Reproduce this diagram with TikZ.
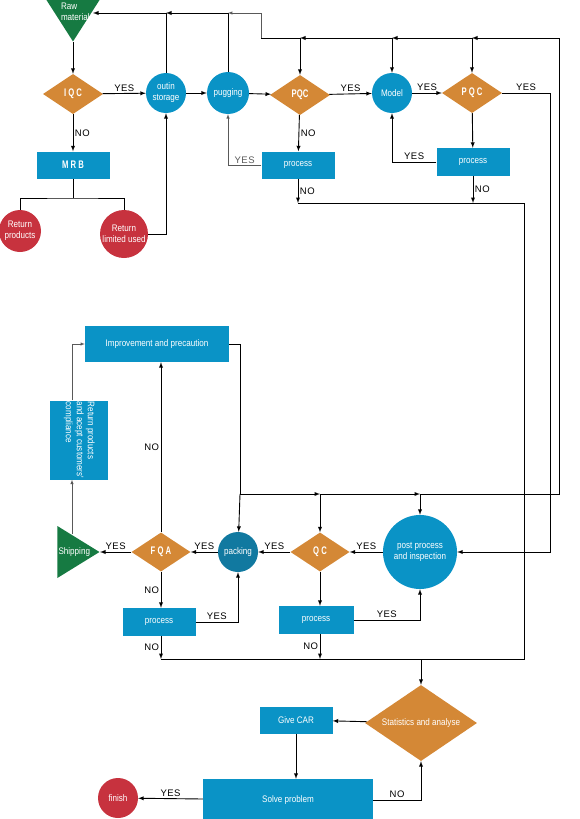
\documentclass[tikz,border=0pt]{standalone}
\usepackage{fontspec}
\setmainfont{Liberation Sans}
\newfontfamily\tagfont[LetterSpace=5]{Liberation Sans}
\newfontfamily\narrowfont[FakeStretch=0.85]{Liberation Sans}
\newfontfamily\checkfont[FakeStretch=0.7]{Liberation Sans}
\usepackage{graphicx}
\usepackage{tikz}
\usetikzlibrary{shapes, shapes.geometric, arrows, calc}

\definecolor{stepblue}{RGB}{10,147,198}
\definecolor{packblue}{RGB}{17,121,160}
\definecolor{checkorange}{RGB}{212,136,54}
\definecolor{flagreen}{RGB}{22,122,66}
\definecolor{backred}{RGB}{199,50,62}

\tikzstyle{station} = [rectangle, fill=stepblue, text=white, align=center,
    minimum width=73pt, minimum height=27pt, inner sep=1pt, font=\narrowfont\fontsize{9.5}{11}\selectfont]
\tikzstyle{bubble} = [circle, fill=stepblue, text=white, align=center,
    minimum size=40pt, inner sep=0pt, font=\narrowfont\fontsize{9.5}{11}\selectfont]
\tikzstyle{check} = [diamond, aspect=1.5, fill=checkorange, text=white,
    minimum width=60pt, minimum height=40pt, inner sep=0pt, font=\checkfont\bfseries\fontsize{11}{12}\selectfont]
\tikzstyle{flag} = [isosceles triangle, isosceles triangle stretches, fill=flagreen,
    text=white, inner sep=0pt, align=left, font=\narrowfont\fontsize{9.5}{11}\selectfont]
\tikzstyle{line} = [draw, -latex, line width=0.9pt]
\tikzstyle{thinline} = [draw, -latex, line width=0.5pt, black!65]
\tikzstyle{tag} = [font=\tagfont\fontsize{9.5}{10}\selectfont, inner sep=1.5pt]

\begin{document}
\begin{tikzpicture}[x=1pt, y=-1pt,
    redbubble/.style={bubble, fill=backred},
    yestag/.style={tag, above},
    notag/.style={tag, right}
    ]
    \useasboundingbox (0,0) rectangle (580,819);

    % incoming material
    \node[flag, shape border rotate=270, minimum width=64pt, minimum height=50pt, anchor=apex] (raw) at (73,42)
        {\makebox[0pt][l]{\hspace*{-12pt}\raisebox{-0.5pt}[0pt][0pt]{\begin{tabular}[t]{@{}l@{}}Raw\\material\end{tabular}}}};
    \node[check] (iqc) at (73,94) {I Q C};
    \node[station, font=\checkfont\bfseries\fontsize{11}{12}\selectfont] (mrb) at (73,165) {M R B};
    \node[redbubble, minimum size=42pt] (retp) at (20,231) {Return\\products};
    \node[redbubble, minimum size=48pt] (retl) at (124,234) {Return\\limited used};
    \node[bubble] (outin) at (166,93) {outin\\storage};
    \node[bubble, minimum size=42pt] (pug) at (228,93) {pugging};
    \node[check] (pqca) at (300,95) {PQC};
    \node[station] (proca) at (298,165) {process};
    \node[bubble] (model) at (392,93) {Model};
    \node[check] (pqcb) at (472,93) {P Q C};
    \node[station, minimum height=28pt] (procb) at (473,162) {process};

    % packing line
    \node[station, minimum width=144pt, minimum height=36pt] (impr) at (157,344) {Improvement and precaution};
    \node[station, minimum width=58pt, minimum height=79pt] (retc) at (79,440)
        {\rotatebox{-90}{\begin{tabular}{@{}l@{}}Return products\\and acept customers'\\compliance\end{tabular}}};
    \node[flag, shape border rotate=0, minimum width=52pt, minimum height=41pt, anchor=apex] (ship) at (100,552) {Shipping};
    \node[check, minimum width=59pt, minimum height=39pt] (fqa) at (161,552) {F Q A};
    \node[bubble, fill=packblue] (pack) at (238,552) {packing};
    \node[check, minimum width=59pt, minimum height=39pt] (qc) at (320,552) {Q C};
    \node[bubble, minimum size=74pt] (post) at (420,552) {post process\\and inspection};
    \node[station, minimum width=75pt, minimum height=28pt] (procc) at (316,620) {process};
    \node[station, minimum height=28pt] (procd) at (159,622) {process};

    % closing
    \node[check, aspect=2.5, minimum width=112pt, minimum height=76pt, font=\narrowfont\fontsize{9.5}{11}\selectfont] (stat) at (421,723) {Statistics and analyse};
    \node[station] (car) at (296,720) {Give CAR};
    \node[station, minimum width=170pt, minimum height=42pt] (solve) at (288,800) {Solve problem};
    \node[redbubble] (fin) at (118,798) {finish};

    % bends of the long lines
    \coordinate (rawin) at (93,13);
    \coordinate (split) at (73,198);
    \coordinate (topa) at (166,13);
    \coordinate (topb) at (228,13);
    \coordinate (topc) at (261,13);
    \coordinate (ji) at (261,38);
    \coordinate (jh) at (300,38);
    \coordinate (jg) at (392,38);
    \coordinate (jf) at (472,38);
    \coordinate (je) at (559,38);
    \coordinate (jd) at (559,494);
    \coordinate (jc) at (420,494);
    \coordinate (jb) at (320,494);
    \coordinate (ja) at (240,494);
    \coordinate (na) at (298,203);
    \coordinate (nb) at (473,203);
    \coordinate (nc) at (524,203);
    \coordinate (nd) at (161,659);
    \coordinate (ne) at (320,659);
    \coordinate (nf) at (421,659);
    \coordinate (ra) at (550,93);
    \coordinate (sa) at (72,534);

    \draw[line] (raw.apex) -- (iqc);
    \path[line] (iqc) edge node[yestag] {YES} (outin);
    \path[line] (iqc) edge node[notag] {NO} (mrb);
    \draw[line width=0.9pt] (mrb) -- (split);
    \draw[line width=0.9pt] (retp) |- (split) -| (retl);
    \draw[line] (retl) -| (outin);
    \path[line] (outin) edge (pug);
    \path[line] (pug) edge (pqca);
    \draw[line] (outin) |- (rawin);
    \draw[line] (pug) |- (topa);
    \draw[thinline] (ji) -- (topc) -- (topb);

    \path[line] (pqca) edge node[yestag] {YES} (model);
    \path[line] (model) edge node[yestag] {YES} (pqcb);
    \path[line] (pqca) edge node[notag] {NO} (proca);
    \path[line] (pqcb) edge (procb);
    \draw[thinline] (proca) -| node[yestag, pos=0.25] {YES} (pug);
    \draw[line] (procb) -| node[yestag, pos=0.25] {YES} (model);
    \draw[line] (proca) -- node[notag] {NO} (na);
    \draw[line] (procb) -- node[notag] {NO} (nb);
    \draw[line width=0.6pt] (na) -- (nc) |- (nd);
    \draw[line] (pqcb) -- node[yestag] {YES} (ra) |- (post);

    \draw[line] (je) -- (jf);
    \draw[line] (jf) -- (jg);
    \draw[line] (jg) -- (jh);
    \draw[line width=0.9pt] (jh) -- (ji);
    \draw[line] (jf) -- (pqcb);
    \draw[line] (jg) -- (model);
    \draw[line] (jh) -- (pqca);

    \path[line] (post) edge node[yestag] {YES} (qc);
    \path[line] (qc) edge node[yestag] {YES} (pack);
    \path[line] (pack) edge node[yestag] {YES} (fqa);
    \path[line] (fqa) edge node[yestag] {YES} (ship);
    \draw[line] (qc) -- (qc |- procc.north);
    \draw[line] (procc) -| node[yestag, pos=0.25] {YES} (post);
    \draw[line] (procc.south -| ne) -- node[tag, left] {NO} (ne);
    \draw[line] (fqa) -- node[tag, left] {NO} (fqa |- procd.north);
    \draw[line] (procd) -| node[yestag, pos=0.25] {YES} (pack);
    \draw[line] (procd.south -| nd) -- node[tag, left] {NO} (nd);
    \draw[line] (fqa) -- node[tag, left] {NO} (fqa |- impr.south);
    \draw[thinline] (sa) -- (sa |- retc.south);
    \draw[thinline] (sa |- retc.north) |- (impr);

    \draw[line width=0.9pt] (impr) -| (ja);
    \draw[line] (ja) -- (jb);
    \draw[line] (jb) -- (jc);
    \draw[line width=0.9pt] (jc) -- (jd) -- (je);
    \draw[line] (ja) -- (pack);
    \draw[line] (jb) -- (qc);
    \draw[line] (jc) -- (post);

    \draw[line] (nf) -- (stat);
    \path[line] (stat) edge (car);
    \draw[line] (car) -- (car |- solve.north);
    \path[line] (solve) edge node[yestag] {YES} (fin);
    \draw[line] (solve) -| node[yestag, pos=0.25] {NO} (stat);
\end{tikzpicture}
\end{document}
